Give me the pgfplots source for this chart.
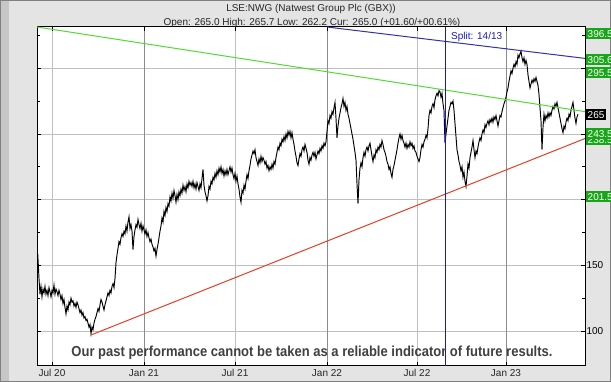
\documentclass[border=0pt]{standalone}
\usepackage{pgfplots}
\pgfplotsset{compat=1.18}
\usepackage{fontspec}
\setmainfont{Liberation Sans}
\usepackage{graphicx}

\definecolor{trgreen}{RGB}{80,220,50}
\definecolor{trblue}{RGB}{50,50,175}
\definecolor{trred}{RGB}{235,60,40}
\definecolor{splitblue}{RGB}{25,25,195}
\definecolor{boxgreen}{RGB}{24,166,24}
\definecolor{bggray}{RGB}{228,228,228}

\begin{document}
\begin{tikzpicture}
\useasboundingbox (0pt,0pt) rectangle (611pt,382pt);
\fill[bggray] (0pt,0pt) rectangle (611pt,382pt);
\fill[black!22] (0pt,0pt) rectangle (9pt,382pt);
\draw[black!50, line width=1.2pt] (0.6pt,0.6pt) rectangle (610.4pt,381.4pt);
\begin{axis}[
  at={(37pt,16pt)}, anchor=south west,
  width=548pt, height=339pt, scale only axis,
  xmin=-30, xmax=1066, ymin=73.4, ymax=331.4,
  axis background/.style={fill=white},
  xtick={0,184,366,550,730,908},
  xticklabels={Jul 20,Jan 21,Jul 21,Jan 22,Jul 22,Jan 23},
  extra x ticks={184,550,908},
  extra x tick labels={},
  extra x tick style={grid style={color=black!45, line width=0.6pt}},
  xmajorgrids, ymajorgrids,
  grid style={color=black!25, line width=0.6pt},
  ytick={100,150,200,250,300},
  yticklabels={100,150,,250,},
  minor ytick={125,175,225,275,325},
  yticklabel pos=right,
  yticklabel style={anchor=west, xshift=-2pt, font=\fontsize{10}{10}\selectfont},
  xticklabel style={font=\fontsize{10}{10}\selectfont, text=black!85},
  major tick length=4pt, minor tick length=3pt,
  tick style={black, line width=0.6pt},
  axis line style={line width=1pt},
  clip=true,
]
\addplot[black, line width=0.95pt] coordinates {
(-30,150) (-28,155) (-26,140) (-24,128) (-22,134) (-20,126) (-18,132) (-16,129) (-14,134) (-12,128) (-10,131) (-8,127) (-6,133) (-4,130) (-2,126) (0,131) (2,129) (4,135) (6,128) (8,132) (10,130) (12,127) (14,131) (16,128) (18,124) (20,127) (22,121) (24,124) (26,118) (28,113) (30,119) (32,116) (34,122) (36,120) (38,125) (40,122) (42,123) (44,119) (46,121) (48,118) (50,122) (52,120) (54,117) (56,114) (58,116) (60,112) (62,114) (64,110) (66,111) (68,108) (70,109) (72,106) (74,103) (76,105) (78,98) (80,103) (82,101) (84,106) (86,109) (88,111) (90,114) (92,117) (94,115) (96,120) (98,124) (100,122) (102,119) (104,116) (106,120) (108,123) (110,126) (112,129) (114,127) (116,131) (118,129) (120,134) (122,136) (124,133) (126,140) (128,152) (130,158) (132,163) (134,168) (136,166) (138,171) (140,174) (142,172) (144,176) (146,174) (148,180) (150,176) (152,183) (154,187) (156,178) (158,181) (160,176) (162,162) (164,172) (166,177) (168,181) (170,179) (172,185) (174,181) (176,178) (178,182) (180,176) (182,180) (184,177) (186,174) (188,177) (190,172) (192,175) (194,171) (196,168) (198,170) (200,166) (202,164) (204,161) (206,163) (208,157) (210,162) (212,166) (214,171) (216,176) (218,180) (220,186) (222,183) (224,191) (226,188) (228,194) (230,191) (232,197) (234,195) (236,202) (238,199) (240,205) (242,201) (244,207) (246,203) (248,198) (250,204) (252,200) (254,206) (256,203) (258,208) (260,205) (262,211) (264,207) (266,210) (268,206) (270,212) (272,209) (274,214) (276,211) (278,213) (280,210) (282,214) (284,209) (286,212) (288,208) (290,213) (292,210) (294,207) (296,212) (298,209) (300,216) (302,223) (304,211) (306,206) (308,203) (310,199) (312,203) (314,210) (316,208) (318,214) (320,212) (322,217) (324,215) (326,220) (328,217) (330,222) (332,219) (334,224) (336,221) (338,225) (340,220) (342,223) (344,218) (346,222) (348,219) (350,223) (352,219) (354,222) (356,225) (358,221) (360,224) (362,219) (364,216) (366,220) (368,214) (370,218) (372,212) (374,208) (376,202) (378,198) (380,207) (382,205) (384,211) (386,208) (388,214) (390,219) (392,216) (394,222) (396,226) (398,231) (400,234) (402,237) (404,235) (406,238) (408,232) (410,229) (412,226) (414,231) (416,228) (418,233) (420,229) (422,232) (424,230) (426,227) (428,229) (430,224) (432,226) (434,222) (436,225) (438,223) (440,227) (442,224) (444,229) (446,227) (448,232) (450,236) (452,240) (454,238) (456,243) (458,241) (460,246) (462,244) (464,248) (466,245) (468,250) (470,247) (472,252) (474,249) (476,252) (478,247) (480,251) (482,246) (484,242) (486,237) (488,233) (490,228) (492,226) (494,231) (496,235) (498,233) (500,238) (502,240) (504,237) (506,242) (508,239) (510,236) (512,230) (514,227) (516,232) (518,230) (520,234) (522,236) (524,233) (526,236) (528,231) (530,234) (532,237) (534,235) (536,239) (538,237) (540,241) (542,239) (544,243) (546,241) (548,244) (550,252) (552,260) (554,258) (556,264) (558,262) (560,267) (562,265) (564,270) (566,274) (568,262) (570,247) (572,256) (574,262) (576,266) (578,270) (580,273) (582,277) (584,271) (586,274) (588,268) (590,271) (592,265) (594,262) (596,258) (598,254) (600,250) (602,246) (604,241) (606,236) (608,230) (610,212) (612,197) (614,215) (616,224) (618,228) (620,225) (622,232) (624,236) (626,233) (628,238) (630,240) (632,237) (634,241) (636,243) (638,238) (640,233) (642,229) (644,234) (646,232) (648,238) (650,236) (652,240) (654,238) (656,242) (658,240) (660,245) (662,242) (664,238) (666,236) (668,233) (670,229) (672,227) (674,223) (676,225) (678,220) (680,217) (682,223) (684,226) (686,230) (688,234) (690,238) (692,243) (694,247) (696,250) (698,246) (700,249) (702,245) (704,243) (706,240) (708,243) (710,239) (712,242) (714,240) (716,244) (718,241) (720,243) (722,239) (724,241) (726,237) (728,236) (730,233) (732,231) (734,229) (736,232) (738,238) (740,242) (742,240) (744,244) (746,246) (748,249) (750,247) (752,254) (754,264) (756,268) (758,266) (760,271) (762,273) (764,270) (766,276) (768,279) (770,281) (772,279) (774,283) (776,282) (778,278) (780,281) (782,273) (784,268) (786,243) (788,250) (790,256) (792,262) (794,268) (796,271) (798,274) (800,273) (802,275) (804,268) (806,258) (808,248) (810,238) (812,234) (814,229) (816,226) (818,222) (820,225) (822,217) (824,221) (826,214) (828,210) (830,218) (832,227) (834,224) (836,232) (838,236) (840,240) (842,245) (844,238) (846,232) (848,237) (850,235) (852,240) (854,244) (856,247) (858,245) (860,250) (862,253) (864,251) (866,257) (868,255) (870,258) (872,260) (874,257) (876,261) (878,259) (880,262) (882,259) (884,263) (886,261) (888,264) (890,260) (892,256) (894,260) (896,264) (898,263) (900,267) (902,270) (904,273) (906,275) (908,278) (910,282) (912,285) (914,290) (916,294) (918,298) (920,296) (922,300) (924,303) (926,301) (928,305) (930,303) (932,310) (934,308) (936,311) (938,313) (940,308) (942,305) (944,308) (946,303) (948,306) (950,303) (952,295) (954,290) (956,285) (958,288) (960,291) (962,289) (964,292) (966,290) (968,293) (970,290) (972,287) (974,280) (976,270) (978,260) (980,238) (982,255) (984,265) (986,260) (988,264) (990,262) (992,266) (994,263) (996,266) (998,264) (1000,268) (1002,271) (1004,269) (1006,273) (1008,271) (1010,274) (1012,270) (1014,266) (1016,262) (1018,258) (1020,254) (1022,251) (1024,256) (1026,254) (1028,259) (1030,262) (1032,260) (1034,265) (1036,263) (1038,268) (1040,271) (1042,274) (1044,268) (1046,262) (1048,258) (1050,263) (1052,265)
};
\addplot[trgreen, line width=1pt] coordinates {(-30,331.4) (1066,267)};
\addplot[trblue, line width=1pt] coordinates {(550,331.4) (1066,307.5)};
\addplot[trred, line width=1pt] coordinates {(78,97) (1066,246.5)};
\addplot[splitblue, line width=0.75pt] coordinates {(786,73.4) (786,331.4)};
\end{axis}
% titles
\node[anchor=base, font=\fontsize{10}{10}\selectfont, text=black!85] at (311pt,370.5pt) {LSE:NWG (Natwest Group Plc (GBX))};
\node[anchor=base, font=\fontsize{10}{10}\selectfont, text=black!85] at (312pt,356.5pt) {Open: 265.0 High: 265.7 Low: 262.2 Cur: 265.0 (+01.60/+00.61\%)};
\node[anchor=base west, font=\fontsize{10}{10}\selectfont, text=splitblue, inner sep=0pt] at (451pt,342pt) {Split: 14/13};
% disclaimer
\node[anchor=base, inner sep=0pt, text=black!75] at (312pt,25pt) {\resizebox{481pt}{10.5pt}{\bfseries Our past performance cannot be taken as a reliable indicator of future results.}};
% right labels
\tikzset{lab/.style={anchor=west, fill=boxgreen, text=white, inner xsep=2pt, inner ysep=0pt, minimum height=11pt, font=\fontsize{10}{10}\selectfont}}
\node[lab] at (585.5pt,348pt) {396.5};
\node[lab] at (585.5pt,322pt) {305.6};
\node[lab] at (585.5pt,309pt) {295.5};
\node[lab, fill=black] at (585.5pt,267pt) {265};
\node[lab] at (585.5pt,242pt) {238.5};
\node[lab] at (585.5pt,248pt) {243.5};
\node[lab] at (585.5pt,185pt) {201.5};
\end{tikzpicture}
\end{document}
